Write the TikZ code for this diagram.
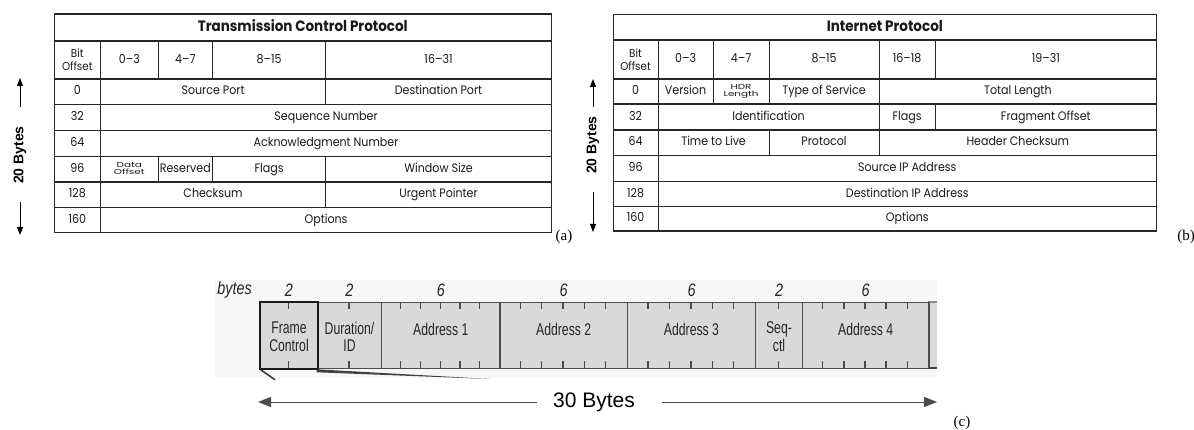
\documentclass[tikz,border=0pt]{standalone}
\usepackage{fontspec}
\usepackage{graphicx}
\setmainfont{Liberation Serif}
\newfontfamily\tabfont[FakeStretch=0.9]{Poppins}
\newfontfamily\arialfont{Liberation Sans}
\newfontfamily\condfont[FakeStretch=0.72]{Liberation Sans}
\newfontfamily\condnum[FakeStretch=0.8]{Liberation Sans}
\usetikzlibrary{arrows.meta,calc}
\newcommand\mkcell[7][]{%
  \pgfmathsetmacro\cw{#5-#3}\pgfmathsetmacro\ch{#6-#4}%
  \node[cellbox,minimum width=\cw pt,minimum height=\ch pt,anchor=north west,#1] (#2) at (#3,#4) {#7};}
\newcommand\mkfield[6]{% name, x1, x2, bytes, label, label y
  \pgfmathsetmacro\cw{#3-#2}%
  \node[fieldbox,minimum width=\cw pt,anchor=north west] (#1) at (#2,302) {};
  \node[fieldlbl] (#1-l) at ($(#1.center)+(0,#6)$) {#5};
  \foreach \k in {1,...,\numexpr#4-1\relax}{
    \pgfmathsetmacro\tx{#2+\k*(#3-#2)/#4}
    \draw[tick] (\tx,302) -- (\tx,309);
    \draw[tick] (\tx,361) -- (\tx,368);
  }}
\newcommand\squash[1]{\scalebox{1.05}[0.66]{\begin{tabular}{@{}c@{}}#1\end{tabular}}}
\begin{document}
\begin{tikzpicture}[x=1pt,y=-1pt,
  cellbox/.style={draw=black!85,line width=1.1pt,inner sep=0pt,align=center,
     text=black!90,font=\tabfont\fontsize{12.3}{13}\selectfont,
     text height=8.6pt,text depth=2.6pt},
  small/.style={font=\tabfont\fontsize{11.5}{13}\selectfont,text height={},text depth={}},
  tiny/.style={font=\tabfont\fontsize{11}{9.5}\selectfont,text height={},text depth={}},
  ttl/.style={font=\tabfont\bfseries\fontsize{15}{15}\selectfont,text height=10.5pt,text depth=3pt},
  sidelbl/.style={font=\arialfont\bfseries\fontsize{14}{14}\selectfont,rotate=90,inner sep=1pt},
  sidearr/.style={-{Triangle[length=8pt,width=6pt]},line width=1pt},
  capl/.style={font=\fontsize{15}{15}\selectfont,inner sep=0pt},
  fieldbox/.style={draw=black!70,fill=black!15,line width=1.3pt,minimum height=66pt,inner sep=0pt},
  fieldlbl/.style={font=\condfont\fontsize{17}{17.5}\selectfont,align=center,text=black!85,inner sep=0pt},
  tick/.style={line width=1.3pt,draw=black!70},
  bytenum/.style={font=\condnum\itshape\fontsize{18}{18}\selectfont,text=black!85,inner sep=0pt},
  bigarr/.style={-{Triangle[length=13pt,width=10pt]},line width=1pt,draw=black!70}]
\useasboundingbox (0,0) rectangle (1194,430);
% ---------------- TCP ----------------
\mkcell[ttl]{t-title}{53.5}{13.5}{551}{40.5}{Transmission Control Protocol}
\mkcell[small]{t-bo}{53.5}{40.5}{100}{78.5}{Bit\\Offset}
\mkcell{t-h1}{100}{40.5}{157.5}{78.5}{0–3}
\mkcell{t-h2}{157.5}{40.5}{212}{78.5}{4–7}
\mkcell{t-h3}{212}{40.5}{325}{78.5}{8–15}
\mkcell{t-h4}{325}{40.5}{551}{78.5}{16–31}
\mkcell{t-o0}{53.5}{78.5}{100}{104}{0}
\mkcell{t-sp}{100}{78.5}{325}{104}{Source Port}
\mkcell{t-dp}{325}{78.5}{551}{104}{Destination Port}
\mkcell{t-o32}{53.5}{104}{100}{130}{32}
\mkcell{t-seq}{100}{104}{551}{130}{Sequence Number}
\mkcell{t-o64}{53.5}{130}{100}{156}{64}
\mkcell{t-ack}{100}{130}{551}{156}{Acknowledgment Number}
\mkcell{t-o96}{53.5}{156}{100}{181.5}{96}
\mkcell[tiny]{t-do}{100}{156}{157.5}{181.5}{\squash{Data\\Offset}}
\mkcell{t-res}{157.5}{156}{212}{181.5}{Reserved}
\mkcell{t-fl}{212}{156}{325}{181.5}{Flags}
\mkcell{t-ws}{325}{156}{551}{181.5}{Window Size}
\mkcell{t-o128}{53.5}{181.5}{100}{207}{128}
\mkcell{t-cs}{100}{181.5}{325}{207}{Checksum}
\mkcell{t-up}{325}{181.5}{551}{207}{Urgent Pointer}
\mkcell{t-o160}{53.5}{207}{100}{232}{160}
\mkcell{t-opt}{100}{207}{551}{232}{Options}
\node[sidelbl] (t-20) at (20,155) {20 Bytes};
\coordinate (t-upstart) at (20,107);
\coordinate (t-upend) at (20,78);
\coordinate (t-dnstart) at (20,202);
\coordinate (t-dnend) at (20,235);
\draw[sidearr] (t-upstart) -- (t-upend);
\draw[sidearr] (t-dnstart) -- (t-dnend);
\node[capl] (cap-a) at (564,237) {(a)};
% ---------------- IP ----------------
\mkcell[ttl]{i-title}{612.5}{14}{1156}{39.5}{Internet Protocol}
\mkcell[small]{i-bo}{612.5}{39.5}{657.5}{78.5}{Bit\\Offset}
\mkcell{i-h1}{657.5}{39.5}{712.5}{78.5}{0–3}
\mkcell{i-h2}{712.5}{39.5}{768.5}{78.5}{4–7}
\mkcell{i-h3}{768.5}{39.5}{878.5}{78.5}{8–15}
\mkcell{i-h4}{878.5}{39.5}{934.5}{78.5}{16–18}
\mkcell{i-h5}{934.5}{39.5}{1156}{78.5}{19–31}
\mkcell{i-o0}{612.5}{78.5}{657.5}{103.5}{0}
\mkcell{i-ver}{657.5}{78.5}{712.5}{103.5}{Version}
\mkcell[tiny]{i-hdr}{712.5}{78.5}{768.5}{103.5}{\squash{HDR\\Length}}
\mkcell{i-tos}{768.5}{78.5}{878.5}{103.5}{Type of Service}
\mkcell{i-tl}{878.5}{78.5}{1156}{103.5}{Total Length}
\mkcell{i-o32}{612.5}{103.5}{657.5}{129.5}{32}
\mkcell{i-id}{657.5}{103.5}{878.5}{129.5}{Identification}
\mkcell{i-fl}{878.5}{103.5}{934.5}{129.5}{Flags}
\mkcell{i-fo}{934.5}{103.5}{1156}{129.5}{Fragment Offset}
\mkcell{i-o64}{612.5}{129.5}{657.5}{155}{64}
\mkcell{i-ttl}{657.5}{129.5}{768.5}{155}{Time to Live}
\mkcell{i-pr}{768.5}{129.5}{878.5}{155}{Protocol}
\mkcell{i-hc}{878.5}{129.5}{1156}{155}{Header Checksum}
\mkcell{i-o96}{612.5}{155}{657.5}{181}{96}
\mkcell{i-sip}{657.5}{155}{1156}{181}{Source IP Address}
\mkcell{i-o128}{612.5}{181}{657.5}{206}{128}
\mkcell{i-dip}{657.5}{181}{1156}{206}{Destination IP Address}
\mkcell{i-o160}{612.5}{206}{657.5}{230.5}{160}
\mkcell{i-opt}{657.5}{206}{1156}{230.5}{Options}
\node[sidelbl] (i-20) at (593,145) {20 Bytes};
\coordinate (i-upstart) at (593,107);
\coordinate (i-upend) at (593,79);
\coordinate (i-dnstart) at (593,192);
\coordinate (i-dnend) at (593,232);
\draw[sidearr] (i-upstart) -- (i-upend);
\draw[sidearr] (i-dnstart) -- (i-dnend);
\node[capl] (cap-b) at (1186,237) {(b)};
% ---------------- 802.11 frame ----------------
\fill[black!3] (215,280) rectangle (937,378);
\fill[black!15] (928.3,302) rectangle (937,368);
\draw[line width=1.3pt,draw=black!45] (928.3,302) -- (937,302);
\draw[line width=1.3pt,draw=black!75] (928.3,368) -- (937,368);
\mkfield{f-fc}{260}{316.7}{2}{Frame\\Control}{1}
\mkfield{f-dur}{316.7}{381}{2}{Duration/\\ID}{1}
\mkfield{f-a1}{381}{499.3}{6}{Address 1}{-6}
\mkfield{f-a2}{499.3}{626.7}{6}{Address 2}{-6}
\mkfield{f-a3}{626.7}{755}{6}{Address 3}{-6}
\mkfield{f-seq}{755}{801.7}{2}{Seq-\\ctl}{1}
\mkfield{f-a4}{801.7}{928.3}{6}{Address 4}{-6}
\draw[line width=2.2pt,draw=black!90] (f-fc.north west) rectangle (f-fc.south east);
\draw[line width=1.5pt,black!80] (f-fc.south west) -- ++(15,10.5);
\fill[black!75] (f-dur.south west) -- (490,379) -- ([yshift=-3pt]f-dur.south west) -- cycle;
\node[bytenum,anchor=east] (f-bytes) at (252,290) {bytes};
\node[bytenum] (n-fc) at (f-fc.north |- 0,290) {2};
\node[bytenum] (n-dur) at (f-dur.north |- 0,290) {2};
\node[bytenum] (n-a1) at (f-a1.north |- 0,290) {6};
\node[bytenum] (n-a2) at (f-a2.north |- 0,290) {6};
\node[bytenum] (n-a3) at (f-a3.north |- 0,290) {6};
\node[bytenum] (n-seq) at (f-seq.north |- 0,290) {2};
\node[bytenum] (n-a4) at (f-a4.north |- 0,290) {6};
\node[font=\arialfont\fontsize{21}{21}\selectfont,inner sep=0pt] (f-30) at (594,402) {30 Bytes};
\coordinate (f-lstart) at (537,402);
\coordinate (f-lend) at (258,402);
\coordinate (f-rstart) at (662,402);
\coordinate (f-rend) at (937,402);
\draw[bigarr] (f-lstart) -- (f-lend);
\draw[bigarr] (f-rstart) -- (f-rend);
\node[capl] (cap-c) at (962,423) {(c)};
\end{tikzpicture}
\end{document}
